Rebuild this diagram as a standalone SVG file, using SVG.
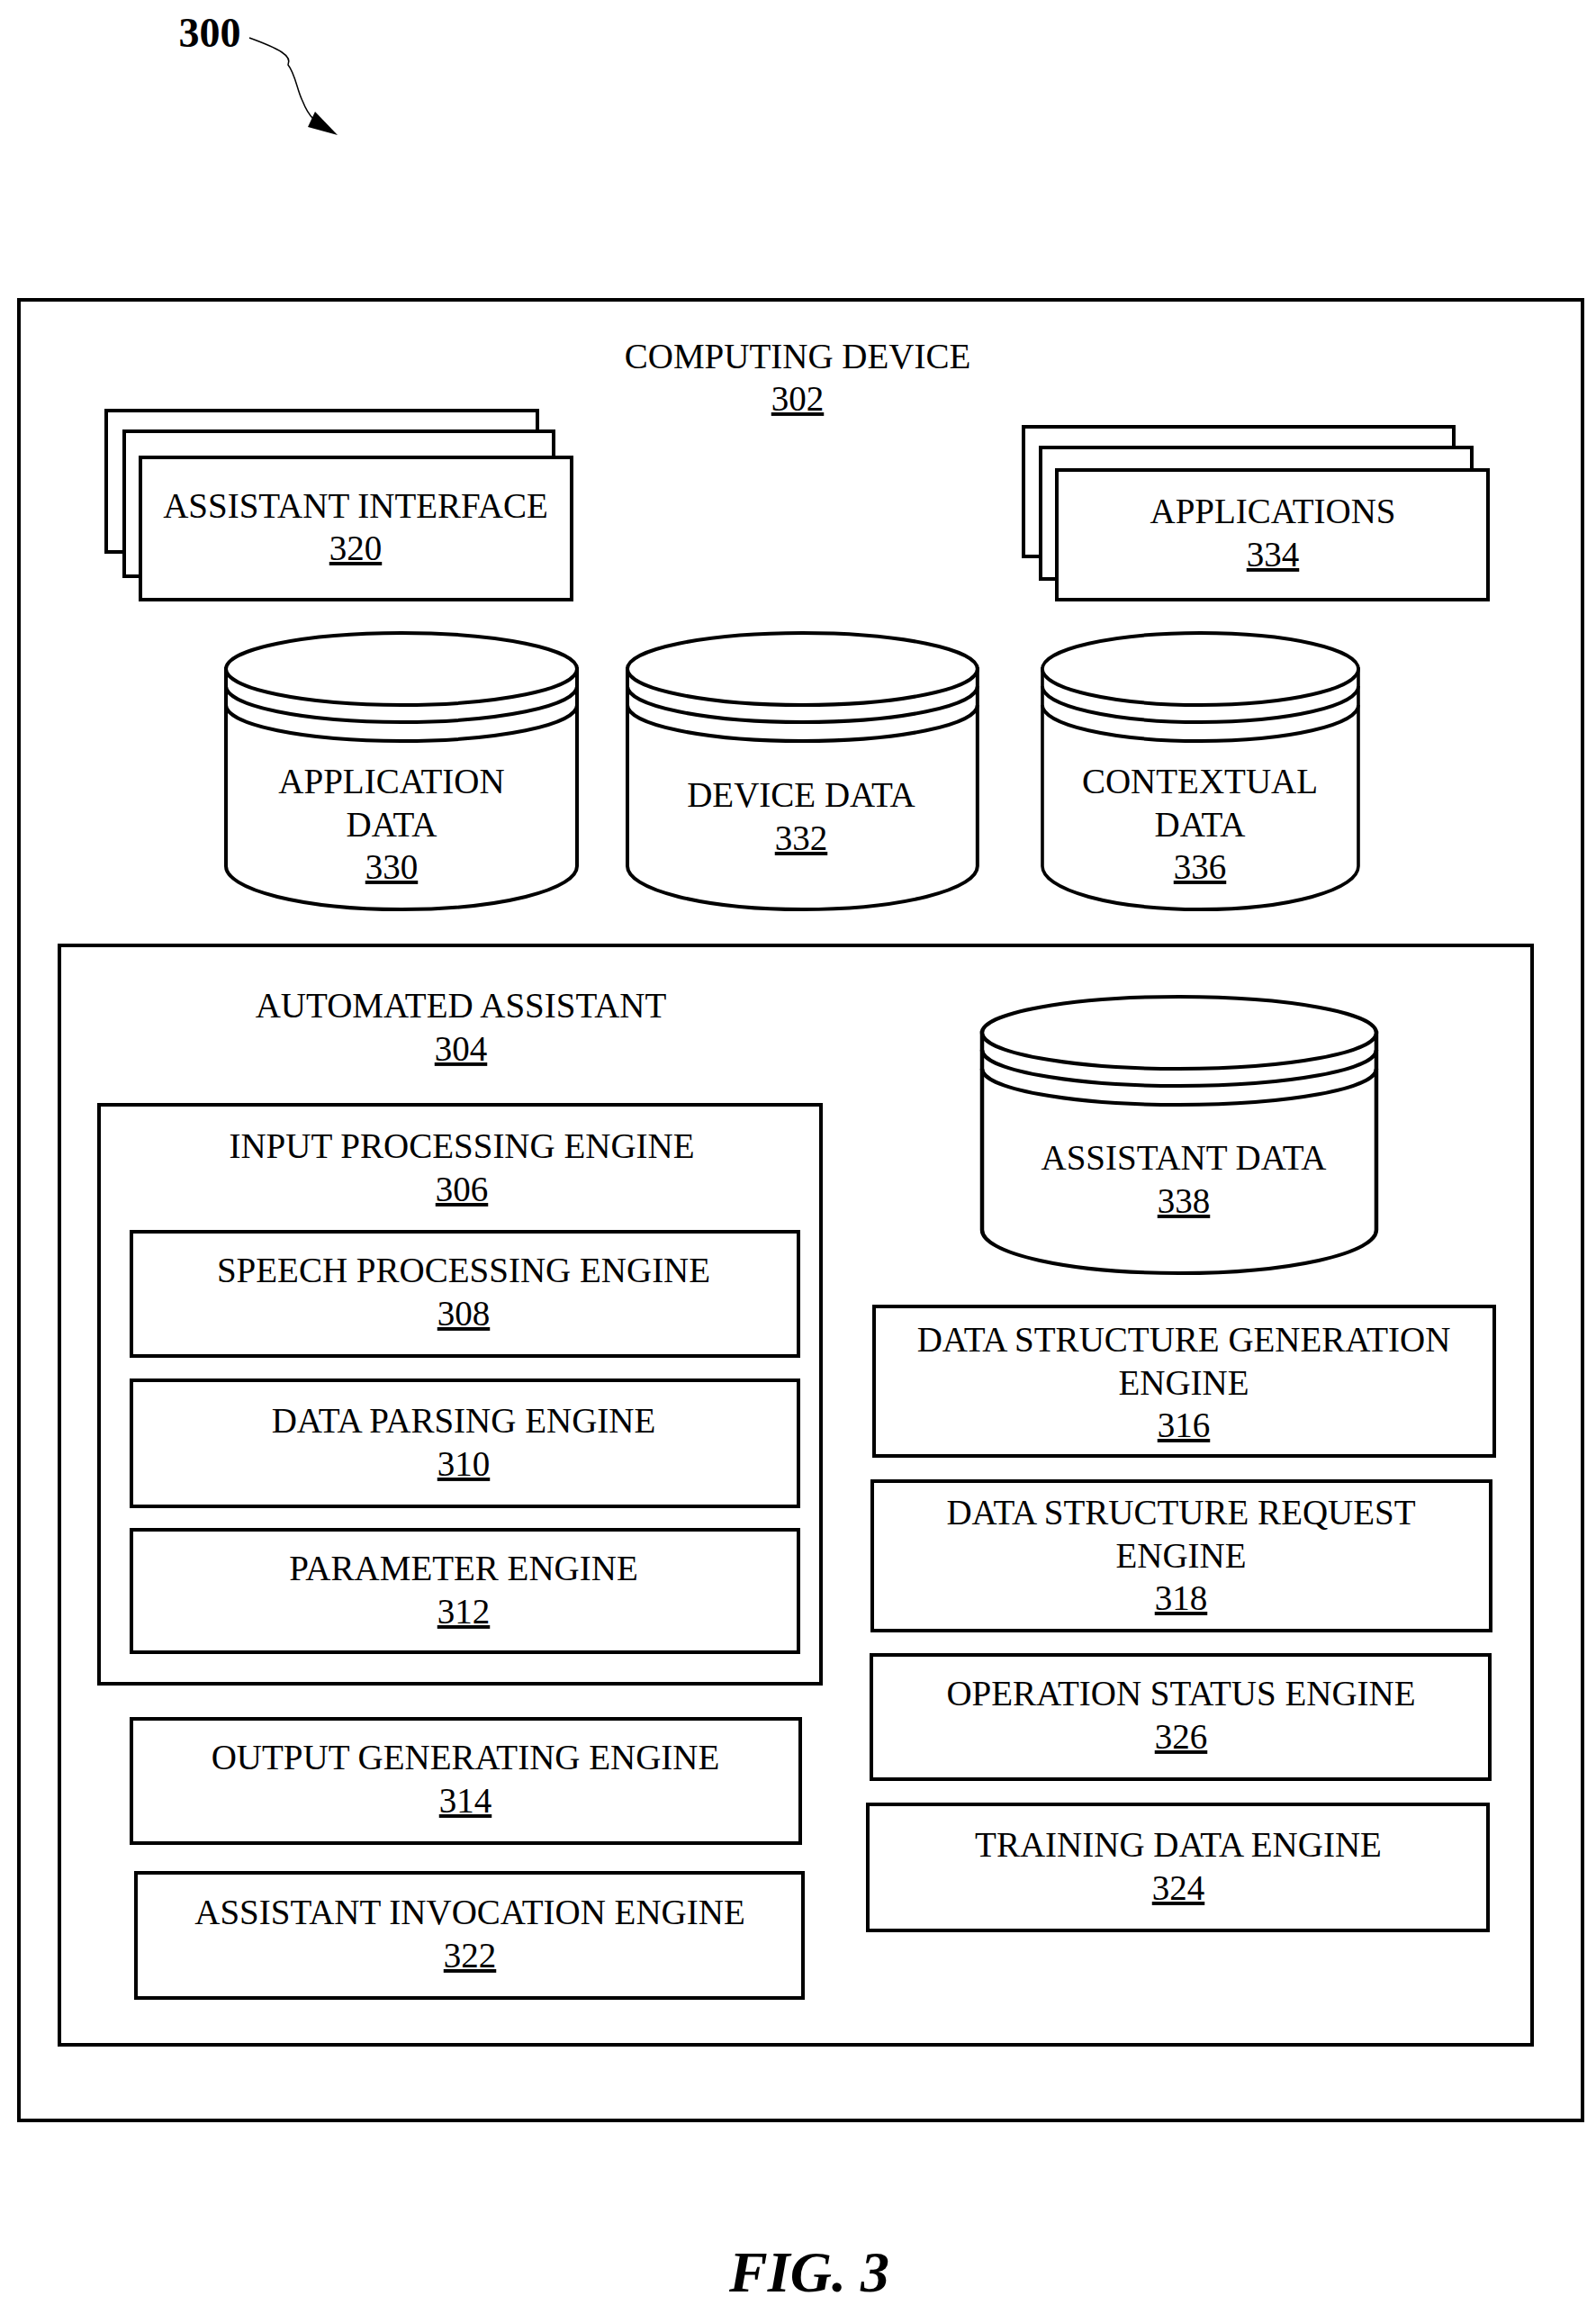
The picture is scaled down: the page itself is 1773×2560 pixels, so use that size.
<svg xmlns="http://www.w3.org/2000/svg" width="1773" height="2560" viewBox="0 0 1773 2560">
<style>
rect,path.c{fill:#fff;stroke:#000;stroke-width:4}
text{font-family:"Liberation Serif",serif;font-size:39px;text-anchor:middle;fill:#000}
.u{text-decoration:underline}
</style>
<rect width="1773" height="2560" fill="#fff" style="stroke:none"/>
<g id="label300">
<text x="233" y="52" style="font-size:46px;font-weight:bold">300</text>
<path d="M277,42 C310,54 325,62 320,72 C328,82 330,100 336,112 C340,122 344,128 348,132" fill="none" stroke="#000" stroke-width="1.5"/>
<polygon points="375,150 342,141 350,124" fill="#000"/>
</g>
<g id="n302">
<rect x="21" y="333" width="1737" height="2022"/>
<text x="886" y="409">COMPUTING DEVICE</text>
<text x="886" y="456" class="u">302</text>
</g>
<g id="n320">
<rect x="118" y="456" width="479" height="157"/>
<rect x="138" y="479" width="477" height="161"/>
<rect x="156" y="508" width="479" height="158"/>
<text x="395" y="575">ASSISTANT INTERFACE</text>
<text x="395" y="622" class="u">320</text>
</g>
<g id="n334">
<rect x="1137" y="474" width="478" height="144"/>
<rect x="1156" y="497" width="479" height="146"/>
<rect x="1174" y="522" width="479" height="144"/>
<text x="1414" y="581">APPLICATIONS</text>
<text x="1414" y="629" class="u">334</text>
</g>
<defs>
<g id="cyl">
<path class="c" d="M0,40 V259 A195,48 0 0 0 390,259 V40 Z"/>
<ellipse cx="195" cy="40" rx="195" ry="40" fill="#fff" stroke="#000" stroke-width="4"/>
<path d="M0,59 A195,40 0 0 0 390,59 M0,80 A195,40 0 0 0 390,80" fill="none" stroke="#000" stroke-width="4"/>
</g>
</defs>
<g id="n330">
<use href="#cyl" transform="translate(251,703)"/>
<text x="435" y="881">APPLICATION</text>
<text x="435" y="929">DATA</text>
<text x="435" y="976" class="u">330</text>
</g>
<g id="n332">
<use href="#cyl" transform="translate(697,703) scale(0.997,1)"/>
<text x="890" y="896">DEVICE DATA</text>
<text x="890" y="944" class="u">332</text>
</g>
<g id="n336">
<use href="#cyl" transform="translate(1158,703) scale(0.9,1)"/>
<text x="1333" y="881">CONTEXTUAL</text>
<text x="1333" y="929">DATA</text>
<text x="1333" y="976" class="u">336</text>
</g>
<g id="n304">
<rect x="66" y="1050" width="1636" height="1221"/>
<text x="512" y="1130">AUTOMATED ASSISTANT</text>
<text x="512" y="1178" class="u">304</text>
</g>
<g id="n338">
<use href="#cyl" transform="translate(1091,1107) scale(1.123,1)"/>
<text x="1315" y="1299">ASSISTANT DATA</text>
<text x="1315" y="1347" class="u">338</text>
</g>
<g id="n306">
<rect x="110" y="1227" width="802" height="643"/>
<text x="513" y="1286">INPUT PROCESSING ENGINE</text>
<text x="513" y="1334" class="u">306</text>
</g>
<g id="n308">
<rect x="146" y="1368" width="741" height="138"/>
<text x="515" y="1424">SPEECH PROCESSING ENGINE</text>
<text x="515" y="1472" class="u">308</text>
</g>
<g id="n310">
<rect x="146" y="1533" width="741" height="140"/>
<text x="515" y="1591">DATA PARSING ENGINE</text>
<text x="515" y="1639" class="u">310</text>
</g>
<g id="n312">
<rect x="146" y="1699" width="741" height="136"/>
<text x="515" y="1755">PARAMETER ENGINE</text>
<text x="515" y="1803" class="u">312</text>
</g>
<g id="n314">
<rect x="146" y="1909" width="743" height="138"/>
<text x="517" y="1965">OUTPUT GENERATING ENGINE</text>
<text x="517" y="2013" class="u">314</text>
</g>
<g id="n322">
<rect x="151" y="2080" width="741" height="139"/>
<text x="522" y="2137">ASSISTANT INVOCATION ENGINE</text>
<text x="522" y="2185" class="u">322</text>
</g>
<g id="n316">
<rect x="971" y="1451" width="689" height="166"/>
<text x="1315" y="1501">DATA STRUCTURE GENERATION</text>
<text x="1315" y="1549">ENGINE</text>
<text x="1315" y="1596" class="u">316</text>
</g>
<g id="n318">
<rect x="969" y="1645" width="687" height="166"/>
<text x="1312" y="1693">DATA STRUCTURE REQUEST</text>
<text x="1312" y="1741">ENGINE</text>
<text x="1312" y="1788" class="u">318</text>
</g>
<g id="n326">
<rect x="968" y="1838" width="687" height="138"/>
<text x="1312" y="1894">OPERATION STATUS ENGINE</text>
<text x="1312" y="1942" class="u">326</text>
</g>
<g id="n324">
<rect x="964" y="2004" width="689" height="140"/>
<text x="1309" y="2062">TRAINING DATA ENGINE</text>
<text x="1309" y="2110" class="u">324</text>
</g>
<g id="connectors"></g>
<text x="899" y="2545" style="font-size:64px;font-weight:bold;font-style:italic">FIG. 3</text>
</svg>
